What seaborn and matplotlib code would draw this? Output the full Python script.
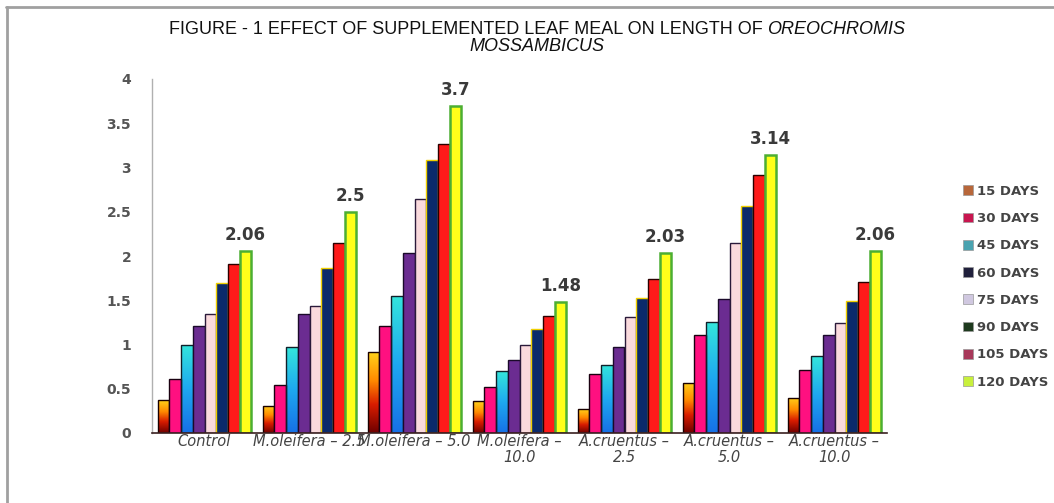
import numpy as np
import pandas as pd
import matplotlib
matplotlib.use("Agg")
import matplotlib.pyplot as plt
import seaborn as sns
from matplotlib.colors import LinearSegmentedColormap
from matplotlib.patches import Patch
from matplotlib.lines import Line2D

# ---- data -------------------------------------------------------------
treatments = ["Control", "M.oleifera – 2.5", "M.oleifera – 5.0",
              "M.oleifera –\n10.0", "A.cruentus –\n2.5",
              "A.cruentus –\n5.0", "A.cruentus –\n10.0"]
periods = ["15 DAYS", "30 DAYS", "45 DAYS", "60 DAYS",
           "75 DAYS", "90 DAYS", "105 DAYS", "120 DAYS"]

d15 = [0.37, 0.31, 0.91, 0.36, 0.27, 0.57, 0.40]
d30 = [0.61, 0.54, 1.21, 0.52, 0.67, 1.11, 0.71]
d45 = [1.00, 0.97, 1.55, 0.70, 0.77, 1.25, 0.87]
d60 = [1.21, 1.35, 2.03, 0.82, 0.97, 1.51, 1.11]
d75 = [1.34, 1.43, 2.64, 1.00, 1.31, 2.15, 1.24]
d90 = [1.69, 1.86, 3.09, 1.18, 1.53, 2.56, 1.49]
d105 = [1.91, 2.15, 3.27, 1.32, 1.74, 2.92, 1.71]
d120 = [2.06, 2.5, 3.7, 1.48, 2.03, 3.14, 2.06]
value_labels = ["2.06", "2.5", "3.7", "1.48", "2.03", "3.14", "2.06"]

series = [d15, d30, d45, d60, d75, d90, d105, d120]

df = pd.DataFrame(
    [(t, p, v) for p, vals in zip(periods, series) for t, v in zip(treatments, vals)],
    columns=["treatment", "period", "length"],
)

# ---- styling ----------------------------------------------------------
bar_colors = ["#ff8c00", "#ff1080", "#2fb6ee", "#6b2c91",
              "#fadadd", "#0b2a6b", "#ff1a1a", "#ffff1a"]
legend_colors = ["#b8673a", "#c8154f", "#4aa3b0", "#20203c",
                 "#d0c8e0", "#1e3a1e", "#a8385a", "#c8f03c"]
edge_colors = ["#1a0000", "#1a0010", "#10202a", "#1a0a2a",
               "#2a1a3a", "#f0d000", "#2a0000", "#4caf32"]

sns.set_theme(style="white")
plt.rcParams["font.family"] = ["DejaVu Sans"]

fig = plt.figure(figsize=(10.54, 5.03), dpi=100)
ax = fig.add_axes([152 / 1054, 1 - 433 / 503, 735 / 1054, 354 / 503])

sns.barplot(data=df, x="treatment", y="length", hue="period",
            hue_order=periods, order=treatments, palette=bar_colors,
            width=0.89, gap=0, errorbar=None, ax=ax, legend=False,
            saturation=1)

for cont, ec in zip(ax.containers, edge_colors):
    for p in cont:
        p.set_edgecolor(ec)
        p.set_linewidth(1.0 if ec != "#4caf32" else 1.8)

# vertical gradients on the 15-day and 45-day bars
grad = np.linspace(0, 1, 256).reshape(-1, 1)
cmap15 = LinearSegmentedColormap.from_list(
    "g15", [(0, "#6e0000"), (0.35, "#d81c00"), (0.65, "#ff8a00"), (1, "#ffd21a")])
cmap45 = LinearSegmentedColormap.from_list(
    "g45", [(0, "#1670e6"), (0.5, "#1ea8f0"), (1, "#34e6dc")])
for idx, cmap in [(0, cmap15), (2, cmap45)]:
    for p in ax.containers[idx]:
        x0, y0 = p.get_xy()
        w, h = p.get_width(), p.get_height()
        im = ax.imshow(grad, extent=[x0, x0 + w, y0, y0 + h], origin="lower",
                       cmap=cmap, aspect="auto", zorder=p.get_zorder() - 0.05,
                       interpolation="bilinear")
        im.set_clip_path(p)
        p.set_facecolor("none")

ax.set_xlim(-0.5, len(treatments) - 0.5)
ax.set_ylim(0, 4)
ax.set_yticks(np.arange(0, 4.01, 0.5))
ax.set_yticklabels(["0", "0.5", "1", "1.5", "2", "2.5", "3", "3.5", "4"],
                   fontsize=10, fontweight="bold", color="#555555")
ax.tick_params(axis="y", length=0, pad=15)
ax.tick_params(axis="x", length=0, pad=1)
ax.set_xticks(range(len(treatments)))
ax.set_xticklabels(treatments, fontsize=10.5, fontstyle="italic",
                   color="#444444", linespacing=1.05, va="top")
ax.set_xlabel("")
ax.set_ylabel("")

for side in ["top", "right"]:
    ax.spines[side].set_visible(False)
ax.spines["left"].set_color("#b0b0b0")
ax.spines["left"].set_linewidth(1.0)
ax.spines["bottom"].set_color("#3a2020")
ax.spines["bottom"].set_linewidth(1.2)

# values on top of the 120-day bars
ax.bar_label(ax.containers[7], labels=value_labels, padding=5,
             fontsize=12, fontweight="bold", color="#3a3a3a")

# title: upright text followed by the italic genus name, centred as one line
title_font = ["Liberation Sans", "DejaVu Sans"]
y1 = 1 - 29 / 503
t1 = fig.text(0, y1, "FIGURE - 1 EFFECT OF SUPPLEMENTED LEAF MEAL ON LENGTH OF ",
              ha="left", va="center", fontsize=13, color="#111111",
              family=title_font)
t2 = fig.text(0, y1, "OREOCHROMIS", ha="left", va="center", fontsize=13,
              color="#111111", fontstyle="italic", family=title_font)
fig.canvas.draw()
r = fig.canvas.get_renderer()
w1 = t1.get_window_extent(r).width
w2 = t2.get_window_extent(r).width
x_start = 537 - (w1 + w2) / 2
t1.set_x(x_start / 1054)
t2.set_x((x_start + w1) / 1054)
fig.text(537 / 1054, 1 - 46 / 503, "MOSSAMBICUS", ha="center", va="center",
         fontsize=13, color="#111111", fontstyle="italic", family=title_font)

# legend
handles = [Patch(facecolor=c, edgecolor="#999999", linewidth=0.5)
           for c in legend_colors]
fig.legend(handles, periods, loc="upper left",
           bbox_to_anchor=(951 / 1054, 1 - 173 / 503), frameon=False,
           labelspacing=1.08, handlelength=0.75, handleheight=0.75,
           handletextpad=0.35, prop={"weight": "bold", "size": 9.5})
for t in fig.legends[0].get_texts():
    t.set_color("#444444")

# outer frame lines
fig.add_artist(Line2D([6 / 1054, 1], [1 - 6.5 / 503] * 2, color="#a0a0a0",
                      lw=2, transform=fig.transFigure))
fig.add_artist(Line2D([7 / 1054] * 2, [0, 1 - 6.5 / 503], color="#a0a0a0",
                      lw=2, transform=fig.transFigure))

fig.savefig("out.png", dpi=100, facecolor="white")
